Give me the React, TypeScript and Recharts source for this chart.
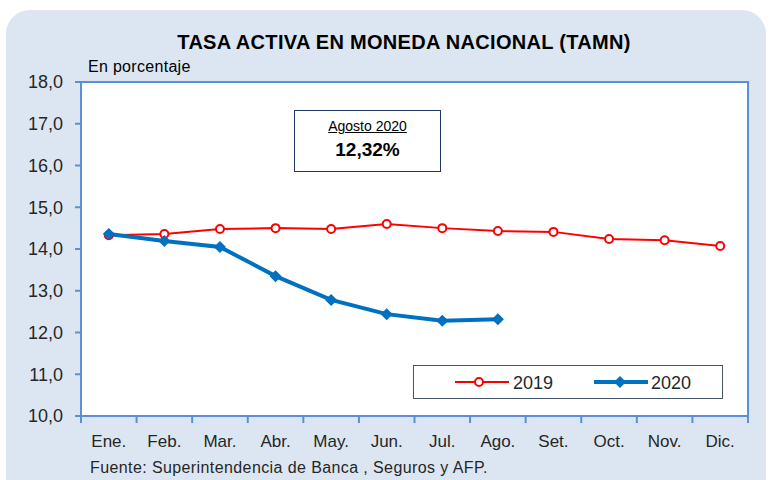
import { LineChart, Line, XAxis, YAxis, CartesianGrid, ReferenceArea } from 'recharts';

const months = ['Ene.', 'Feb.', 'Mar.', 'Abr.', 'May.', 'Jun.', 'Jul.', 'Ago.', 'Set.', 'Oct.', 'Nov.', 'Dic.'];
const tasa2019 = [14.33, 14.36, 14.48, 14.5, 14.48, 14.6, 14.5, 14.43, 14.41, 14.24, 14.21, 14.07];
const tasa2020 = [14.36, 14.19, 14.05, 13.35, 12.78, 12.44, 12.28, 12.32];
const yTicks = [10, 11, 12, 13, 14, 15, 16, 17, 18];

const data = months.map((mes, i) => ({
  mes,
  a2019: tasa2019[i],
  a2020: tasa2020[i] ?? null,
}));

const AXIS = '#5b8fd6';
const RED = '#ff0000';
const BLUE = '#0070c0';
const FONT = '"Liberation Sans", Arial, sans-serif';

function fmt(v: number) {
  return v.toFixed(1).replace('.', ',');
}

// category label + tick marks on the band edges
function MonthTick(props: any) {
  const { x, y, payload, index, visibleTicksCount, width } = props;
  const half = payload.offset || width / visibleTicksCount / 2;
  const top = y - 19;
  return (
    <g>
      <line x1={x - half} x2={x - half} y1={top} y2={top + 7} stroke={AXIS} strokeWidth={2} />
      {index === visibleTicksCount - 1 && (
        <line x1={x + half} x2={x + half} y1={top} y2={top + 7} stroke={AXIS} strokeWidth={2} />
      )}
      <text x={x} y={y} dy="0.71em" textAnchor="middle" fontSize={17} fill="#262626" fontFamily={FONT}>
        {payload.value}
      </text>
    </g>
  );
}

function Diamond(props: any) {
  const { cx, cy } = props;
  if (cx == null || cy == null) return null;
  const r = 6;
  return <path d={`M${cx},${cy - r}L${cx + r},${cy}L${cx},${cy + r}L${cx - r},${cy}Z`} fill={BLUE} />;
}

function LegendBox() {
  return (
    <div style={{
      position: 'absolute', left: 413, top: 365, width: 310, height: 34,
      background: '#fff', border: '1.5px solid #44546a', boxSizing: 'border-box',
    }}>
      <svg width={310} height={34} style={{ position: 'absolute', left: 0, top: 0 }}>
        <line x1={41} x2={95} y1={16} y2={16} stroke={RED} strokeWidth={2} />
        <circle cx={65} cy={16} r={4} fill="#fff" stroke={RED} strokeWidth={2} />
        <text x={99} y={23} fontSize={18} fill="#262626" fontFamily={FONT}>2019</text>
        <line x1={180} x2={234} y1={16} y2={16} stroke={BLUE} strokeWidth={4} />
        <path d="M206,10L212,16L206,22L200,16Z" fill={BLUE} />
        <text x={237} y={23} fontSize={18} fill="#262626" fontFamily={FONT}>2020</text>
      </svg>
    </div>
  );
}

export default function App() {
  return (
    <div style={{ position: 'absolute', left: 0, top: 0, width: 770, height: 480, overflow: 'hidden', background: '#fff', fontFamily: FONT }}>
      <div style={{ position: 'absolute', left: 6, top: 10, width: 760, height: 500, borderRadius: 24, background: '#dce6f2' }} />
      <div style={{ position: 'absolute', left: 0, top: 31, width: 808, textAlign: 'center', fontWeight: 'bold', fontSize: 20, letterSpacing: 0.3, color: '#000' }}>
        TASA ACTIVA EN MONEDA NACIONAL (TAMN)
      </div>
      <div style={{ position: 'absolute', left: 88, top: 58, fontSize: 16, letterSpacing: 0.3, color: '#000' }}>En porcentaje</div>
      <div style={{ position: 'absolute', left: 0, top: 0 }}>
        <LineChart width={770} height={480} data={data} margin={{ top: 82, right: 22, bottom: 30, left: 0 }}>
          <CartesianGrid fill="#fff" horizontal={false} vertical={false} />
          <XAxis
            dataKey="mes"
            scale="band"
            tickLine={false}
            axisLine={{ stroke: AXIS, strokeWidth: 2 }}
            tickSize={7}
            tickMargin={12}
            height={34}
            interval={0}
            tick={<MonthTick />}
          />
          <YAxis
            domain={[10, 18]}
            ticks={yTicks}
            tickFormatter={fmt}
            width={81}
            tickSize={6}
            tickMargin={12}
            axisLine={{ stroke: AXIS, strokeWidth: 2 }}
            tickLine={{ stroke: AXIS, strokeWidth: 2 }}
            tick={{ fontSize: 18, fill: '#262626', fontFamily: FONT }}
          />
          <ReferenceArea y1={10} y2={18} fill="none" stroke={AXIS} strokeWidth={2} />
          <Line
            dataKey="a2019"
            stroke={RED}
            strokeWidth={2}
            dot={{ r: 4, fill: '#fff', stroke: RED, strokeWidth: 2 }}
            isAnimationActive={false}
          />
          <Line
            dataKey="a2020"
            stroke={BLUE}
            strokeWidth={4}
            dot={<Diamond />}
            connectNulls={false}
            isAnimationActive={false}
          />
        </LineChart>
      </div>
      <div style={{
        position: 'absolute', left: 294, top: 110, width: 147, height: 62, boxSizing: 'border-box',
        border: '1.5px solid #1f3864', background: '#fff', textAlign: 'center', color: '#000',
      }}>
        <div style={{ fontSize: 14, textDecoration: 'underline', marginTop: 7 }}>Agosto 2020</div>
        <div style={{ fontSize: 19, fontWeight: 'bold', marginTop: 5 }}>12,32%</div>
      </div>
      <LegendBox />
      <div style={{ position: 'absolute', left: 90, top: 459, fontSize: 16, letterSpacing: 0.4, color: '#262626' }}>
        Fuente: Superintendencia de Banca , Seguros y AFP.
      </div>
    </div>
  );
}
